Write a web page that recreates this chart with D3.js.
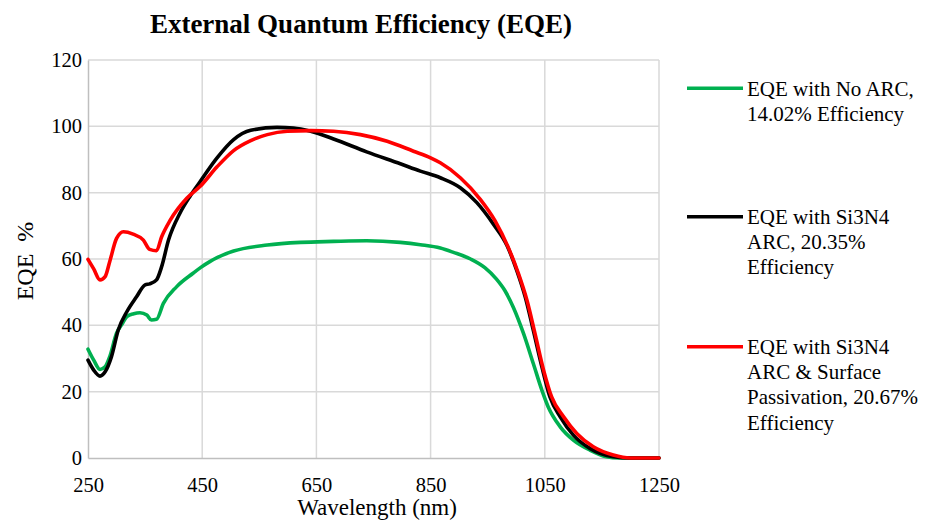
<!DOCTYPE html>
<html>
<head>
<meta charset="utf-8">
<script src="https://cdn.jsdelivr.net/npm/d3@7"></script>
<style>
  html, body { margin: 0; padding: 0; background: #fff; }
  svg text { font-family: "Liberation Serif", "DejaVu Serif", serif !important; fill: #000; }
</style>
</head>
<body>
<svg id="chart" width="931" height="524"></svg>
<script>
// ---- Data ----
const xTicks = [250, 450, 650, 850, 1050, 1250];
const yTicks = [0, 20, 40, 60, 80, 100, 120];

const noArcWl  = [250,260,271,280,288,300,310,318,330,341,353,361,370,382,405,434,447,464,476,505,564,622,680,738,797,832,867,890,920,945,965,980,995,1013,1030,1045,1056,1077,1100,1129,1158,1180,1250];
const noArcEqe = [32.8,29.5,26.7,27.5,30.5,37.6,40.5,42.6,43.5,43.8,43.1,41.6,41.8,46.6,51.6,55.7,57.4,59.3,60.4,62.4,64.2,65.0,65.3,65.5,65.0,64.3,63.3,62.0,60.0,57.4,54.0,50.5,45.4,37.4,28.4,20.4,15.4,9.4,5.4,2.4,0.4,0,0];

const arcWl  = [250,260,271,280,291,303,318,335,350,358,370,379,391,411,429,445,476,505,535,581,610,640,680,738,797,832,867,902,931,960,984,1001,1016,1030,1045,1059,1077,1100,1129,1170,1200,1250];
const arcEqe = [29.5,26.5,24.7,26.0,30.5,38.6,44.1,48.6,52.2,52.5,53.7,57.7,65.7,73.8,79.0,83.0,90.5,96.0,98.8,99.7,99.5,98.5,96.2,92.3,88.7,86.5,84.5,81.5,77.0,70.5,64.0,56.5,48.4,38.4,27.4,18.4,12.4,6.9,2.9,0.4,0,0];

const passWl  = [250,260,271,280,288,300,312,329,347,358,370,379,394,423,447,476,505,535,564,599,640,680,727,774,820,850,867,902,937,963,986,1003,1019,1033,1048,1062,1083,1106,1135,1170,1200,1250];
const passEqe = [59.9,57.0,53.7,54.7,59.2,66.2,68.2,67.5,65.7,62.9,62.5,66.7,71.7,78.3,82.0,87.8,92.7,95.7,97.5,98.5,98.7,98.5,97.5,95.5,92.5,90.5,89.0,84.5,78.0,71.5,63.5,56.0,47.4,37.4,26.4,18.4,12.4,7.4,3.4,0.9,0,0];

const seriesNames = [
  ["EQE with No ARC,", "14.02% Efficiency"],
  ["EQE with Si3N4", "ARC, 20.35%", "Efficiency"],
  ["EQE with Si3N4", "ARC & Surface", "Passivation, 20.67%", "Efficiency"]
];
const seriesColors = ["#00B050", "#000000", "#FF0000"];

const series = [
  { wl: noArcWl, eqe: noArcEqe },
  { wl: arcWl, eqe: arcEqe },
  { wl: passWl, eqe: passEqe }
];

// ---- Layout ----
const FONT = "'Liberation Serif', 'DejaVu Serif', serif";
const plot = { left: 88, right: 659, top: 60, bottom: 458 };
const svg = d3.select("#chart");

const x = d3.scaleLinear().domain([250, 1250]).range([plot.left, plot.right]);
const y = d3.scaleLinear().domain([0, 120]).range([plot.bottom, plot.top]);

// Title
svg.append("text")
  .attr("x", 361).attr("y", 33)
  .attr("text-anchor", "middle")
  .attr("font-family", FONT)
  .style("font-size", "27px").style("font-weight", "bold")
  .text("External Quantum Efficiency (EQE)");

// Gridlines
const grid = svg.append("g");
grid.selectAll("line.h").data(yTicks.filter(d => d > 0)).join("line")
  .attr("x1", plot.left).attr("x2", plot.right)
  .attr("y1", d => y(d)).attr("y2", d => y(d))
  .attr("stroke", "#d9d9d9").attr("stroke-width", 1.5);
grid.selectAll("line.v").data(xTicks.filter(d => d > 250)).join("line")
  .attr("y1", plot.top).attr("y2", plot.bottom)
  .attr("x1", d => x(d)).attr("x2", d => x(d))
  .attr("stroke", "#d9d9d9").attr("stroke-width", 1.5);

// Axes
const xAxis = svg.append("g").attr("transform", `translate(0,${plot.bottom})`)
  .call(d3.axisBottom(x).tickValues(xTicks).tickSize(0).tickPadding(19).tickFormat(d3.format("d")));
const yAxis = svg.append("g").attr("transform", `translate(${plot.left},0)`)
  .call(d3.axisLeft(y).tickValues(yTicks).tickSize(0).tickPadding(6).tickFormat(d3.format("d")));
[xAxis, yAxis].forEach(a => {
  a.attr("font-family", FONT).attr("font-size", 20.5);
  a.select(".domain").attr("stroke", "#bfbfbf").attr("stroke-width", 1.5);
  a.selectAll("text").attr("fill", "#000");
});

// Axis titles
svg.append("text")
  .attr("x", 377).attr("y", 515)
  .attr("text-anchor", "middle")
  .attr("font-family", FONT)
  .style("font-size", "23px")
  .text("Wavelength (nm)");
svg.append("text")
  .attr("transform", "translate(33,261) rotate(-90)")
  .attr("text-anchor", "middle")
  .attr("font-family", FONT)
  .style("font-size", "24px")
  .style("white-space", "pre")
  .attr("xml:space", "preserve")
  .text("EQE  %");

// Lines
const line = d3.line().curve(d3.curveMonotoneX);
svg.append("g").selectAll("path").data(series).join("path")
  .attr("d", s => line(s.wl.map((w, i) => [x(w), y(s.eqe[i])])))
  .attr("fill", "none")
  .attr("stroke", (s, i) => seriesColors[i])
  .attr("stroke-width", 3.6)
  .attr("stroke-linejoin", "round")
  .attr("stroke-linecap", "round");

// Legend
const legendY = [88.3, 216.7, 346.7];
const legend = svg.append("g").attr("font-family", FONT);
seriesNames.forEach((lines, i) => {
  legend.append("line")
    .attr("x1", 687).attr("x2", 743)
    .attr("y1", legendY[i]).attr("y2", legendY[i])
    .attr("stroke", seriesColors[i]).attr("stroke-width", 3.6);
  lines.forEach((t, j) => {
    legend.append("text")
      .attr("x", 747).attr("y", legendY[i] + j * 25.2)
      .attr("dy", "0.35em")
      .style("font-size", "21px")
      .text(t);
  });
});
</script>
</body>
</html>
